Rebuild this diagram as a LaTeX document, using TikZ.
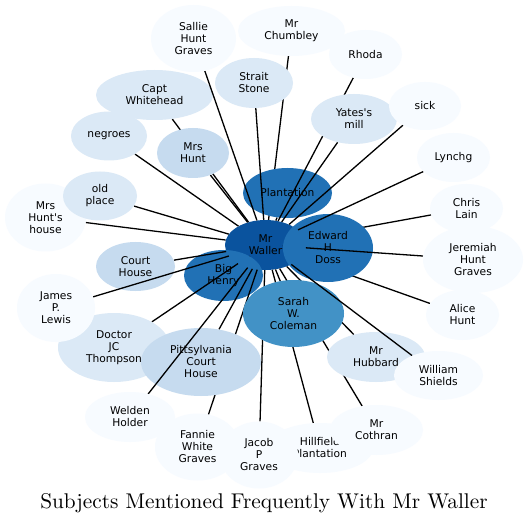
\documentclass[tikz,border=0pt]{standalone}
\usepackage{fontspec}
\newfontfamily\labfont{DejaVu Sans}
\newfontfamily\titlefont{lmroman10-regular}[Extension=.otf]
\usetikzlibrary{shapes.geometric}
\definecolor{cA}{HTML}{0A539E}
\definecolor{cB}{HTML}{2171B5}
\definecolor{cC}{HTML}{4292C6}
\definecolor{cD}{HTML}{C6DBEF}
\definecolor{cE}{HTML}{DBE9F6}
\definecolor{cF}{HTML}{F7FBFF}
\tikzset{
  lab/.style={ellipse, inner sep=0pt, align=center, text=black,
    font=\labfont\fontsize{10.7}{12}\selectfont},
  ghost/.style={ellipse, inner sep=0pt},
  edgeline/.style={line width=1.3pt, black},
}
% name, width, height, colour, text : edge from Mr Waller, then the node on top
\newcommand\subj[5]{%
  \draw[edgeline] (w) -- (p#1);
  \node[lab, fill=#4, minimum width=#2pt, minimum height=#3pt] (#1) at (p#1) {#5};}
\begin{document}
\begin{tikzpicture}[x=1pt,y=-1pt]
\useasboundingbox (0,0) rectangle (528,524);
\fill[white] (0,0) rectangle (528,524);
% placement of every subject (invisible)
\foreach \n/\x/\y/\wd/\ht in {
  alice/462.5/315/73/50, bighenry/223.5/275.5/79/51, capt/154.5/95/117/50,
  chris/466.5/208.5/73/49, court/135.5/266.5/79/49, doctor/114/347.5/112/69,
  edward/328/248/90/68, fannie/197.5/447/85/67, hillfield/320/448/106/50,
  jacob/259/455/78/67, james/56/308/78/68, jeremiah/473/259.5/100/67,
  lynchg/453.5/157.5/73/49, chumbley/291.5/31/107/50, cothran/376.5/430/93/50,
  hubbard/376/357/98/50, mrshunt/193/153/72/50, mrshouse/45.5/217.5/81/68,
  pitts/201/362/120/68, plantation/287.5/193/89/50, rhoda/365.5/54.5/73/49,
  sallie/193.5/38.5/85/67, sarah/293.5/313.5/101/67, strait/254/83/78/50,
  welden/130/417/90/50, william/438.5/375.5/89/49, yates/354/119/86/50,
  negroes/109/136/76/49, oldplace/100/196/74/49, sick/425/106/72/48}
  \node[ghost, minimum width=\wd pt, minimum height=\ht pt] (p\n) at (\x,\y) {};
% centre node first
\node[lab, fill=cA, minimum width=81pt, minimum height=50pt] (w) at (265.5,245) {Mr\\Waller};
\subj{alice}{73}{50}{cF}{Alice\\Hunt}
\subj{bighenry}{79}{51}{cB}{Big\\Henry}
\subj{capt}{117}{50}{cE}{Capt\\Whitehead}
\subj{chris}{73}{49}{cF}{Chris\\Lain}
\subj{court}{79}{49}{cD}{Court\\House}
\subj{doctor}{112}{69}{cE}{Doctor\\JC\\Thompson}
\subj{edward}{90}{68}{cB}{Edward\\H\\Doss}
\subj{fannie}{85}{67}{cF}{Fannie\\White\\Graves}
\subj{hillfield}{106}{50}{cF}{Hillfield\\Plantation}
\subj{jacob}{78}{67}{cF}{Jacob\\P\\Graves}
\subj{james}{78}{68}{cF}{James\\P.\\Lewis}
\subj{jeremiah}{100}{67}{cF}{Jeremiah\\Hunt\\Graves}
\subj{lynchg}{73}{49}{cF}{Lynchg}
\subj{chumbley}{107}{50}{cF}{Mr\\Chumbley}
\subj{cothran}{93}{50}{cF}{Mr\\Cothran}
\subj{hubbard}{98}{50}{cE}{Mr\\Hubbard}
\subj{mrshunt}{72}{50}{cD}{Mrs\\Hunt}
\subj{mrshouse}{81}{68}{cF}{Mrs\\Hunt\textquotesingle s\\house}
\subj{pitts}{120}{68}{cD}{Pittsylvania\\Court\\House}
\subj{plantation}{89}{50}{cB}{Plantation}
\subj{rhoda}{73}{49}{cF}{Rhoda}
\subj{sallie}{85}{67}{cF}{Sallie\\Hunt\\Graves}
\subj{sarah}{101}{67}{cC}{Sarah\\W.\\Coleman}
\subj{strait}{78}{50}{cE}{Strait\\Stone}
\subj{welden}{90}{50}{cF}{Welden\\Holder}
\subj{william}{89}{49}{cF}{William\\Shields}
\subj{yates}{86}{50}{cE}{Yates\textquotesingle s\\mill}
\subj{negroes}{76}{49}{cE}{negroes}
\subj{oldplace}{74}{49}{cE}{old\\place}
\subj{sick}{72}{48}{cF}{sick}
\node[anchor=base, font=\titlefont\fontsize{21.3}{24}\selectfont] (title) at (264,508)
  {Subjects Mentioned Frequently With Mr Waller};
\end{tikzpicture}
\end{document}
